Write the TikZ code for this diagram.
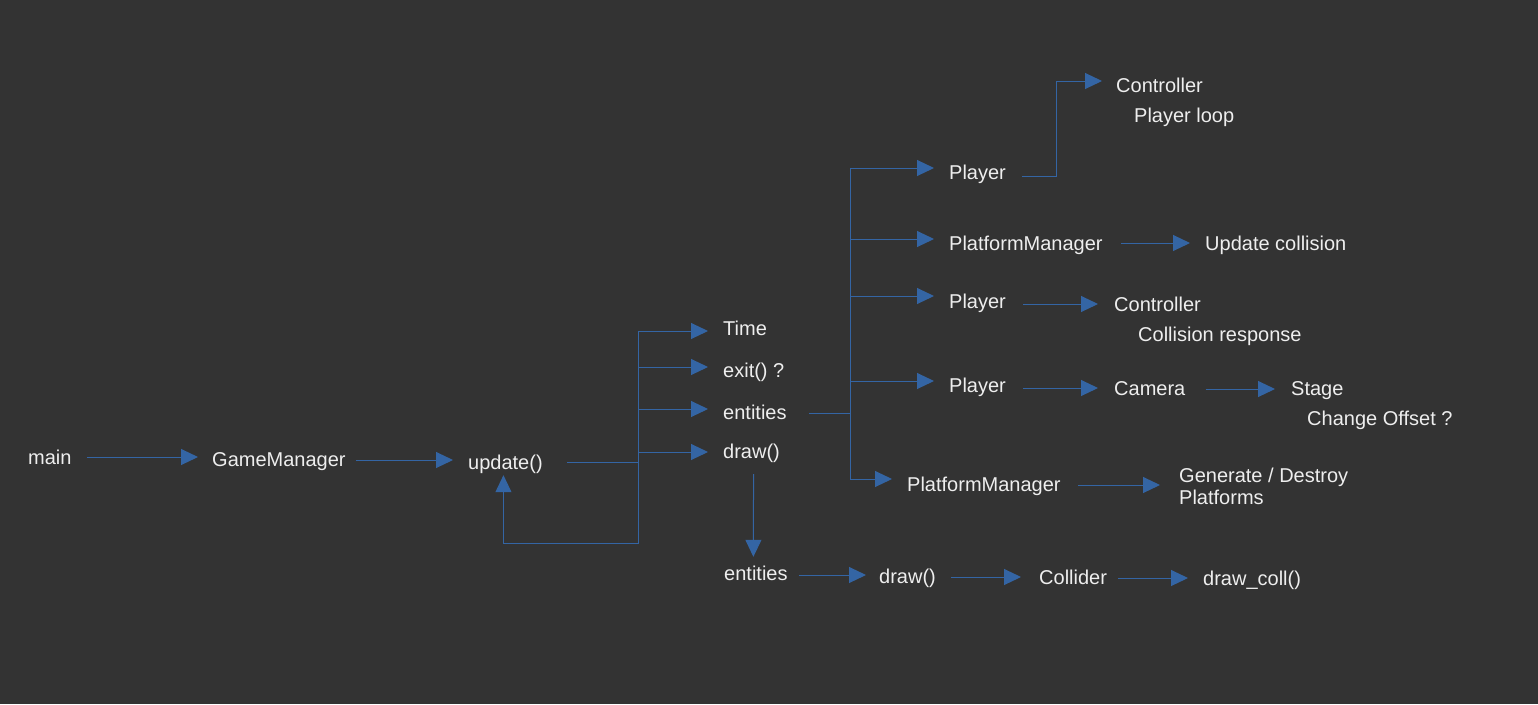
\documentclass[tikz,border=0pt]{standalone}
\usepackage{fontspec}
\setmainfont{Liberation Sans}
\usetikzlibrary{arrows.meta,calc}
\definecolor{bg}{HTML}{333333}
\definecolor{ln}{HTML}{3465A4}
\definecolor{fg}{HTML}{EEEEEE}
\begin{document}
\begin{tikzpicture}[x=1pt,y=-1pt,
  txt/.style={text=fg,font=\fontsize{20}{22}\selectfont,inner sep=0pt,anchor=west,text height=14pt,text depth=0pt},
  gtxt/.style={text=fg,font=\fontsize{20}{22}\selectfont,inner sep=0pt,anchor=west,align=left},
  conn/.style={draw=ln,line width=1pt},
  arr/.style={conn,-{Triangle[length=17pt,width=16pt]}},
]
\fill[bg] (0,0) rectangle (1538,704);
\useasboundingbox (0,0) rectangle (1538,704);

\node[txt] (main) at (28,457) {main};
\node[txt] (gm) at (212,459) {GameManager};
\node[txt] (upd) at (468,462) {update()};
\node[txt] (time) at (723,328) {Time};
\node[txt] (exit) at (723,370) {exit() ?};
\node[txt] (ent1) at (723,412) {entities};
\node[txt] (draw1) at (723,451) {draw()};
\node[txt] (ent2) at (724,573) {entities};
\node[txt] (draw2) at (879,576) {draw()};
\node[txt] (coll) at (1039,577) {Collider};
\node[txt] (dcoll) at (1203,578) {draw\_coll()};
\node[txt] (p1) at (949,172) {Player};
\node[txt] (ctrl1) at (1116,85) {Controller};
\node[txt] (loop1) at (1134,115) {Player loop};
\node[txt] (pm1) at (949,243) {PlatformManager};
\node[txt] (uc) at (1205,243) {Update collision};
\node[txt] (p2) at (949,301) {Player};
\node[txt] (ctrl2) at (1114,304) {Controller};
\node[txt] (cresp) at (1138,334) {Collision response};
\node[txt] (p3) at (949,385) {Player};
\node[txt] (cam) at (1114,388) {Camera};
\node[txt] (stage) at (1291,388) {Stage};
\node[txt] (offs) at (1307,418) {Change Offset ?};
\node[txt] (pm2) at (907,484) {PlatformManager};
\node[gtxt] (gen) at (1179,486) {Generate / Destroy\\Platforms};

\coordinate (jA) at (638,462);
\coordinate (jB) at (850,413);
\coordinate (lp) at (638,543);

\draw[arr] ([xshift=15pt]main.east) -- ([xshift=-14pt,yshift=2pt]gm.west);
\draw[arr] ([xshift=10pt,yshift=-1pt]gm.east) -- ([xshift=-15pt,yshift=2pt]upd.west);

\draw[conn] ([xshift=24pt]upd.east) -- (jA);
\draw[arr] (jA) |- ([xshift=-15pt,yshift=-3pt]time.west);
\draw[arr] (jA) |- ([xshift=-15pt,yshift=3pt]exit.west);
\draw[arr] (jA) |- ([xshift=-15pt,yshift=3pt]ent1.west);
\draw[arr] (jA) |- ([xshift=-15pt,yshift=-1pt]draw1.west);
\draw[arr] (jA) -- (lp) -| ([xshift=-2pt,yshift=-6pt]upd.south);

\draw[conn] ([xshift=22pt,yshift=-1pt]ent1.east) -- (jB);
\draw[arr] (jB) |- ([xshift=-15pt,yshift=4pt]p1.west);
\draw[arr] (jB) |- ([xshift=-15pt,yshift=4pt]pm1.west);
\draw[arr] (jB) |- ([xshift=-15pt,yshift=5pt]p2.west);
\draw[arr] (jB) |- ([xshift=-15pt,yshift=4pt]p3.west);
\draw[arr] (jB) |- ([xshift=-15pt,yshift=5pt]pm2.west);

\draw[arr] ([xshift=16pt,yshift=-4pt]p1.east) -| ([xshift=-60pt,yshift=4pt]ctrl1.west) -- ([xshift=-14pt,yshift=4pt]ctrl1.west);
\draw[arr] ([xshift=18pt]pm1.east) -- ([xshift=-15pt]uc.west);
\draw[arr] ([xshift=17pt,yshift=-3pt]p2.east) -- ([xshift=-16pt]ctrl2.west);
\draw[arr] ([xshift=17pt,yshift=-3pt]p3.east) -- ([xshift=-16pt]cam.west);
\draw[arr] ([xshift=20pt,yshift=-1pt]cam.east) -- ([xshift=-16pt,yshift=-1pt]stage.west);
\draw[arr] ([xshift=17pt,yshift=-1pt]pm2.east) -- ([xshift=-19pt,yshift=1pt]gen.west);

\draw[arr] ([xshift=2pt,yshift=-16pt]draw1.south) -- ([xshift=-2.5pt,yshift=9pt]ent2.north);
\draw[arr] ([xshift=11pt,yshift=-2pt]ent2.east) -- ([xshift=-13pt,yshift=1pt]draw2.west);
\draw[arr] ([xshift=15pt,yshift=-1pt]draw2.east) -- ([xshift=-18pt]coll.west);
\draw[arr] ([xshift=11pt,yshift=-1pt]coll.east) -- ([xshift=-15pt]dcoll.west);
\end{tikzpicture}
\end{document}
